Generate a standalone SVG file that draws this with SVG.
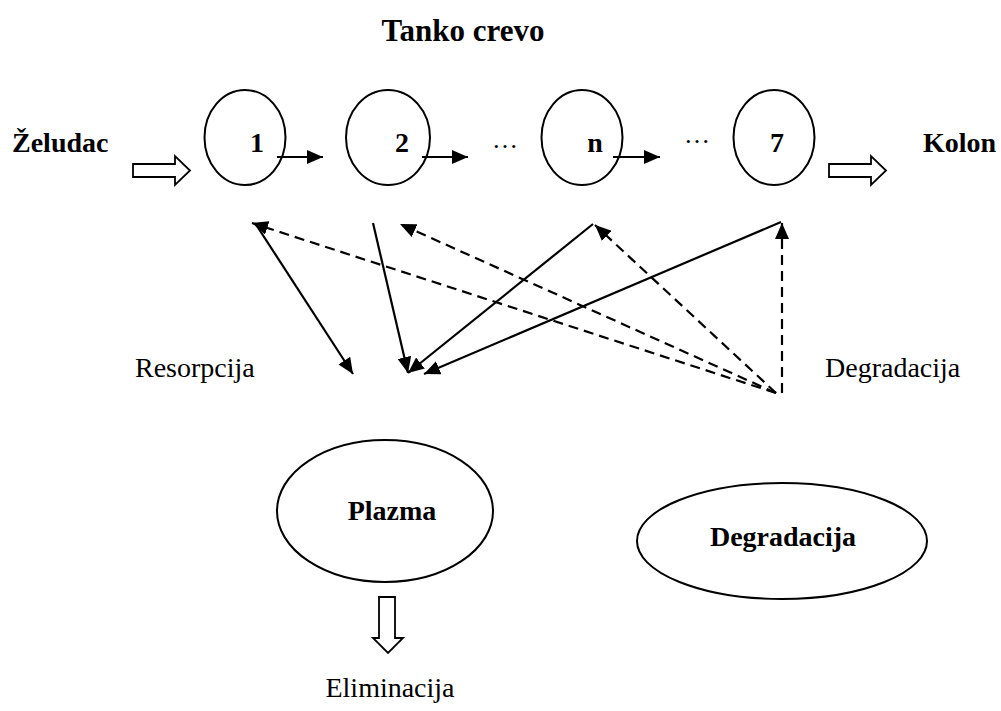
<svg xmlns="http://www.w3.org/2000/svg" width="1001" height="711" viewBox="0 0 1001 711">
<style>
.b{font-family:"Liberation Serif","Times New Roman",serif;font-weight:bold;font-size:28px;fill:#000}
.r{font-family:"Liberation Serif","Times New Roman",serif;font-size:28px;fill:#000}
.n{fill:#fff;stroke:#000;stroke-width:2}
.s{fill:none;stroke:#000;stroke-width:2.2}
.d{fill:none;stroke:#000;stroke-width:2.2;stroke-dasharray:10 6}
.blk{fill:#fff;stroke:#000;stroke-width:1.8}
</style>
<defs>
<marker id="ah" markerUnits="userSpaceOnUse" markerWidth="16" markerHeight="14" refX="16" refY="7" orient="auto">
<path d="M0,0 L16,7 L0,14 Z" fill="#000"/>
</marker>
</defs>
<rect width="1001" height="711" fill="#fff"/>
<text class="b" x="463" y="41" text-anchor="middle" style="font-size:31px">Tanko crevo</text>
<g id="zeludac"><text class="b" x="12" y="152">Želudac</text></g>
<g id="kolon"><text class="b" x="923" y="152">Kolon</text></g>
<g id="c1"><ellipse class="n" cx="245" cy="137.5" rx="40.5" ry="47.5"/><text class="b" x="257" y="152" text-anchor="middle">1</text></g>
<g id="c2"><ellipse class="n" cx="388" cy="137.5" rx="42" ry="47.5"/><text class="b" x="402" y="152" text-anchor="middle">2</text></g>
<g id="cn"><ellipse class="n" cx="582" cy="137.5" rx="40.5" ry="47.5"/><text class="b" x="595" y="152" text-anchor="middle">n</text></g>
<g id="c7"><ellipse class="n" cx="774" cy="137.5" rx="40.5" ry="47.5"/><text class="b" x="777" y="152" text-anchor="middle">7</text></g>
<text class="r" x="505" y="148" text-anchor="middle" style="font-size:26px">…</text>
<text class="r" x="697" y="143" text-anchor="middle" style="font-size:26px">…</text>
<g id="plazma"><ellipse class="n" cx="385" cy="511" rx="108" ry="71"/><text class="b" x="392" y="520" text-anchor="middle">Plazma</text></g>
<g id="degradacija"><ellipse class="n" cx="782" cy="541" rx="145" ry="58"/><text class="b" x="783" y="546" text-anchor="middle">Degradacija</text></g>
<text class="r" x="135" y="377">Resorpcija</text>
<text class="r" x="825" y="377">Degradacija</text>
<text class="r" x="390" y="697" text-anchor="middle">Eliminacija</text>
<g id="connectors">
<polygon class="blk" points="133,164 175,164 175,156 190,170.5 175,185 175,177 133,177"/>
<polygon class="blk" points="829,164 871,164 871,156 886,170.5 871,185 871,177 829,177"/>
<polygon class="blk" points="379,597 395,597 395,638 403,638 388,653 373,638 379,638"/>
<line class="s" x1="277" y1="157" x2="323" y2="157" marker-end="url(#ah)"/>
<line class="s" x1="422" y1="157" x2="468" y2="157" marker-end="url(#ah)"/>
<line class="s" x1="613" y1="157" x2="660" y2="157" marker-end="url(#ah)"/>
<line class="s" x1="255" y1="223" x2="353" y2="374" marker-end="url(#ah)"/>
<line class="s" x1="373" y1="223" x2="408" y2="373" marker-end="url(#ah)"/>
<line class="s" x1="593" y1="224" x2="408" y2="373" marker-end="url(#ah)"/>
<line class="s" x1="781" y1="222" x2="424" y2="374" marker-end="url(#ah)"/>
<line class="d" x1="776" y1="393" x2="252" y2="223" marker-end="url(#ah)"/>
<line class="d" x1="776" y1="393" x2="400" y2="224" marker-end="url(#ah)"/>
<line class="d" x1="776" y1="393" x2="595" y2="225" marker-end="url(#ah)"/>
<line class="d" x1="782" y1="393" x2="782" y2="223" marker-end="url(#ah)"/>
</g>
</svg>
